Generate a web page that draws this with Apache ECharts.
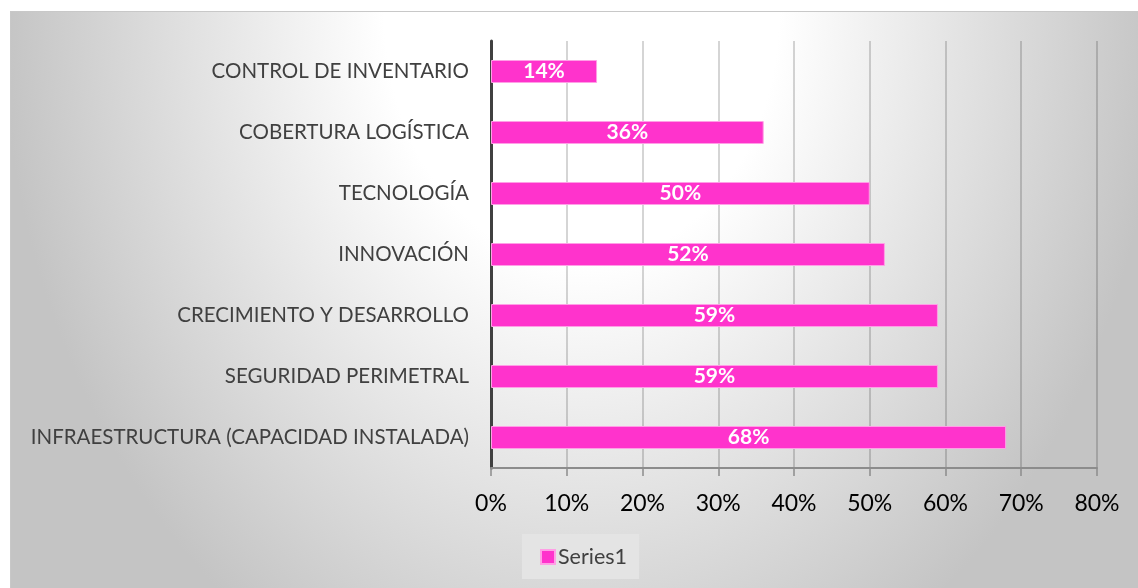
<!DOCTYPE html>
<html>
<head>
<meta charset="utf-8">
<script src="https://cdn.jsdelivr.net/npm/echarts@6/dist/echarts.min.js"></script>
<style>
  html, body { margin: 0; padding: 0; background: #ffffff; width: 1138px; height: 588px; overflow: hidden; }
  #chart {
    position: absolute; left: 10px; top: 11px; width: 1142px; height: 577px;
    border-top: 1px solid #c8c8c8; border-left: 1px solid #c8c8c8; box-sizing: border-box;
    background: radial-gradient(ellipse 580px 740px at 50% 0%, #ffffff 0%, #ffffff 34%, #c4c4c4 100%);
  }
</style>
</head>
<body>
<div id="chart"></div>
<script>
const categories = [
  'CONTROL DE INVENTARIO',
  'COBERTURA LOGÍSTICA',
  'TECNOLOGÍA',
  'INNOVACIÓN',
  'CRECIMIENTO Y DESARROLLO',
  'SEGURIDAD PERIMETRAL',
  'INFRAESTRUCTURA (CAPACIDAD INSTALADA)'
];
const series1 = [0.14, 0.36, 0.50, 0.52, 0.59, 0.59, 0.68];
const seriesName = 'Series1';

const chart = echarts.init(document.getElementById('chart'), null, { renderer: 'canvas' });
const font = 'Lato, "Open Sans", "Liberation Sans", sans-serif';
chart.setOption({
  backgroundColor: 'transparent',
  animation: false,
  textStyle: { fontFamily: font },
  grid: { left: 480, top: 29, width: 606, height: 427, containLabel: false },
  legend: {
    data: [seriesName],
    left: 511, top: 522,
    backgroundColor: '#e4e4e4',
    padding: [12, 12, 11, 18],
    itemWidth: 14, itemHeight: 14,
    icon: 'rect',
    textStyle: { color: '#404040', fontSize: 21.5, fontFamily: font, padding: [0, 0, 0, -2] }
  },
  xAxis: {
    type: 'value',
    min: 0, max: 0.8, interval: 0.1,
    axisLine: { show: true, lineStyle: { color: '#8c8c8c', width: 2 } },
    axisTick: { show: true, length: 8, lineStyle: { color: '#8c8c8c', width: 1.5 } },
    axisLabel: {
      color: '#000000', fontSize: 23, margin: 24, fontFamily: font,
      formatter: v => Math.round(v * 100) + '%'
    },
    splitLine: { show: true, lineStyle: { color: 'rgba(0,0,0,0.22)', width: 1.5 } }
  },
  yAxis: {
    type: 'category',
    data: categories,
    inverse: true,
    axisLine: { show: true, lineStyle: { color: '#404040', width: 3 } },
    axisTick: { show: false },
    axisLabel: { color: '#404040', fontSize: 20.5, margin: 22, fontFamily: font }
  },
  series: [{
    name: seriesName,
    type: 'bar',
    data: series1,
    barWidth: 23,
    itemStyle: { color: '#ff33cc', borderColor: '#ff9fe6', borderWidth: 1 },
    label: {
      show: true, position: 'inside', color: '#ffffff', fontWeight: 'bold',
      fontSize: 21, fontFamily: font,
      formatter: p => Math.round(p.value * 100) + '%'
    }
  }]
});
</script>
</body>
</html>
